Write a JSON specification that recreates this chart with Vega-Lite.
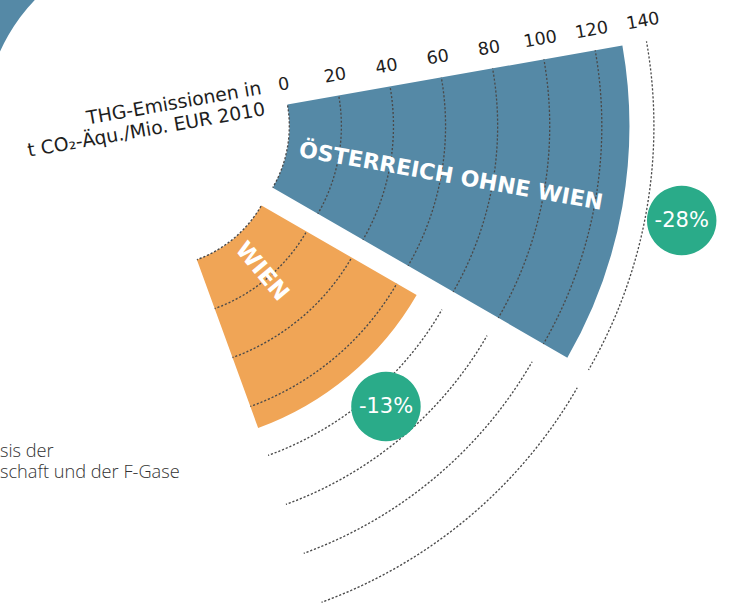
{
  "$schema": "https://vega.github.io/schema/vega-lite/v6.json",
  "width": 332,
  "height": 252,
  "autosize": {"type": "none"},
  "padding": {"left": 0, "top": 0, "right": 401, "bottom": 354},
  "background": "#ffffff",
  "config": {"view": {"stroke": null}, "text": {"font": "DejaVu Sans"}},
  "title": {
    "text": ["sis der", "schaft und der F-Gase"],
    "orient": "bottom",
    "anchor": "start",
    "frame": "group",
    "offset": -162,
    "font": "Open Sans",
    "fontSize": 18.2,
    "fontWeight": 300,
    "color": "#333333",
    "lineHeight": 21,
    "baseline": "top",
    "align": "left"
  },
  "datasets": {
    "sektoren": [
      {"region": "Österreich ohne Wien", "beschriftung": "ÖSTERREICH OHNE WIEN", "sektor_von": 2, "sektor_bis": 3, "wert": 130.6, "veraenderung": "-28%"},
      {"region": "Wien", "beschriftung": "WIEN", "sektor_von": 3, "sektor_bis": 4, "wert": 68.8, "veraenderung": "-13%"}
    ],
    "randsektor": [{"sektor_von": 7, "sektor_bis": 8, "von": 22.5, "bis": 140}],
    "skala": [{"tick": 0}, {"tick": 20}, {"tick": 40}, {"tick": 60}, {"tick": 80}, {"tick": 100}, {"tick": 120}, {"tick": 140}]
  },
  "layer": [
    {
      "data": {"name": "randsektor"},
      "mark": {"type": "arc", "fill": "#5589a6"},
      "encoding": {
        "theta": {"field": "sektor_von", "type": "quantitative", "stack": null, "scale": {"type": "linear", "domain": [0, 9], "range": [0, 6.283185307179586]}},
        "theta2": {"field": "sektor_bis"},
        "radius": {"field": "bis", "type": "quantitative", "scale": {"type": "linear", "domain": [0, 140], "range": [123.3, 487.9], "zero": false}},
        "radius2": {"field": "von"}
      }
    },
    {
      "data": {"name": "sektoren"},
      "transform": [{"filter": "datum.region === 'Österreich ohne Wien'"}],
      "mark": {"type": "arc", "fill": "#5589a6"},
      "encoding": {
        "theta": {"field": "sektor_von", "type": "quantitative", "stack": null},
        "theta2": {"field": "sektor_bis"},
        "radius": {"field": "wert", "type": "quantitative"},
        "radius2": {"datum": 0}
      }
    },
    {
      "data": {"name": "sektoren"},
      "transform": [{"filter": "datum.region === 'Wien'"}],
      "mark": {"type": "arc", "fill": "#f0a556", "xOffset": -11.3, "yOffset": 17.8},
      "encoding": {
        "x": {"value": {"expr": "width/2"}},
        "y": {"value": {"expr": "height/2"}},
        "theta": {"field": "sektor_von", "type": "quantitative", "stack": null},
        "theta2": {"field": "sektor_bis"},
        "radius": {"field": "wert", "type": "quantitative"},
        "radius2": {"datum": 0}
      }
    },
    {
      "data": {"name": "skala"},
      "mark": {"type": "arc", "filled": false, "stroke": "#4a4a4a", "strokeWidth": 1.3, "strokeDash": [2, 2], "strokeDashOffset": {"expr": "1 - scale('radius', datum.tick) * 0.6981317"}},
      "encoding": {
        "theta": {"datum": 2, "type": "quantitative", "stack": null},
        "theta2": {"datum": 3},
        "radius": {"field": "tick", "type": "quantitative"},
        "radius2": {"field": "tick"}
      }
    },
    {
      "data": {"name": "skala"},
      "mark": {"type": "arc", "filled": false, "stroke": "#4a4a4a", "strokeWidth": 1.3, "strokeDash": [2, 2], "strokeDashOffset": {"expr": "1 - scale('radius', datum.tick) * 0.6981317"}, "xOffset": -11.3, "yOffset": 17.8},
      "encoding": {
        "x": {"value": {"expr": "width/2"}},
        "y": {"value": {"expr": "height/2"}},
        "theta": {"datum": 3, "type": "quantitative", "stack": null},
        "theta2": {"datum": 4},
        "radius": {"field": "tick", "type": "quantitative"},
        "radius2": {"field": "tick"}
      }
    },
    {
      "data": {"name": "skala"},
      "mark": {"type": "text", "angle": -10, "dy": -20, "align": "center", "baseline": "middle", "fontSize": 17.5, "fill": "#1e1e1e"},
      "encoding": {
        "theta": {"datum": 2, "type": "quantitative"},
        "radius": {"field": "tick", "type": "quantitative"},
        "text": {"field": "tick", "type": "quantitative"}
      }
    },
    {
      "data": {"name": "skala"},
      "transform": [{"filter": "datum.tick === 0"}],
      "mark": {"type": "text", "text": ["THG-Emissionen in", "t CO₂-Äqu./Mio. EUR 2010"], "angle": -10, "dx": -23, "dy": -21, "lineHeight": 21.5, "align": "right", "baseline": "middle", "fontSize": 18.8, "fill": "#1e1e1e"},
      "encoding": {
        "theta": {"datum": 2, "type": "quantitative"},
        "radius": {"field": "tick", "type": "quantitative"}
      }
    },
    {
      "data": {"name": "sektoren"},
      "transform": [{"filter": "datum.region === 'Österreich ohne Wien'"}, {"calculate": "(datum.sektor_von + datum.sektor_bis) / 2", "as": "sektor_mitte"}],
      "mark": {"type": "text", "angle": 10, "dx": 12, "align": "left", "baseline": "middle", "fontSize": 22, "fontWeight": "bold", "fill": "#ffffff"},
      "encoding": {
        "theta": {"field": "sektor_mitte", "type": "quantitative"},
        "radius": {"datum": 0},
        "text": {"field": "beschriftung"}
      }
    },
    {
      "data": {"name": "sektoren"},
      "transform": [{"filter": "datum.region === 'Wien'"}, {"calculate": "(datum.sektor_von + datum.sektor_bis) / 2", "as": "sektor_mitte"}],
      "mark": {"type": "text", "angle": 50, "dx": 9, "align": "left", "baseline": "middle", "fontSize": 23, "fontWeight": "bold", "fill": "#ffffff", "xOffset": -11.3, "yOffset": 17.8},
      "encoding": {
        "x": {"value": {"expr": "width/2"}},
        "y": {"value": {"expr": "height/2"}},
        "theta": {"field": "sektor_mitte", "type": "quantitative"},
        "radius": {"datum": 0},
        "text": {"field": "beschriftung"}
      }
    },
    {
      "data": {"name": "sektoren"},
      "transform": [{"filter": "datum.region === 'Österreich ohne Wien'"}, {"calculate": "(datum.sektor_von + datum.sektor_bis) / 2", "as": "sektor_mitte"}],
      "mark": {"type": "text", "text": "●", "align": "center", "baseline": "middle", "fontSize": 91, "dy": -4.4, "fill": "#2aab89", "radiusOffset": 61, "thetaOffset": 0.008},
      "encoding": {
        "theta": {"field": "sektor_mitte", "type": "quantitative"},
        "radius": {"field": "wert", "type": "quantitative"}
      }
    },
    {
      "data": {"name": "sektoren"},
      "transform": [{"filter": "datum.region === 'Österreich ohne Wien'"}, {"calculate": "(datum.sektor_von + datum.sektor_bis) / 2", "as": "sektor_mitte"}],
      "mark": {"type": "text", "align": "center", "baseline": "middle", "fontSize": 21, "fill": "#ffffff", "radiusOffset": 61, "thetaOffset": 0.008},
      "encoding": {
        "theta": {"field": "sektor_mitte", "type": "quantitative"},
        "radius": {"field": "wert", "type": "quantitative"},
        "text": {"field": "veraenderung"}
      }
    },
    {
      "data": {"name": "sektoren"},
      "transform": [{"filter": "datum.region === 'Wien'"}, {"calculate": "(datum.sektor_von + datum.sektor_bis) / 2", "as": "sektor_mitte"}],
      "mark": {"type": "text", "text": "●", "align": "center", "baseline": "middle", "fontSize": 91, "dy": -4.4, "fill": "#2aab89", "radiusOffset": 48, "thetaOffset": -0.0227, "xOffset": -11.3, "yOffset": 17.8},
      "encoding": {
        "x": {"value": {"expr": "width/2"}},
        "y": {"value": {"expr": "height/2"}},
        "theta": {"field": "sektor_mitte", "type": "quantitative"},
        "radius": {"field": "wert", "type": "quantitative"}
      }
    },
    {
      "data": {"name": "sektoren"},
      "transform": [{"filter": "datum.region === 'Wien'"}, {"calculate": "(datum.sektor_von + datum.sektor_bis) / 2", "as": "sektor_mitte"}],
      "mark": {"type": "text", "align": "center", "baseline": "middle", "fontSize": 21, "fill": "#ffffff", "radiusOffset": 48, "thetaOffset": -0.0227, "xOffset": -11.3, "yOffset": 17.8},
      "encoding": {
        "x": {"value": {"expr": "width/2"}},
        "y": {"value": {"expr": "height/2"}},
        "theta": {"field": "sektor_mitte", "type": "quantitative"},
        "radius": {"field": "wert", "type": "quantitative"},
        "text": {"field": "veraenderung"}
      }
    }
  ]
}
